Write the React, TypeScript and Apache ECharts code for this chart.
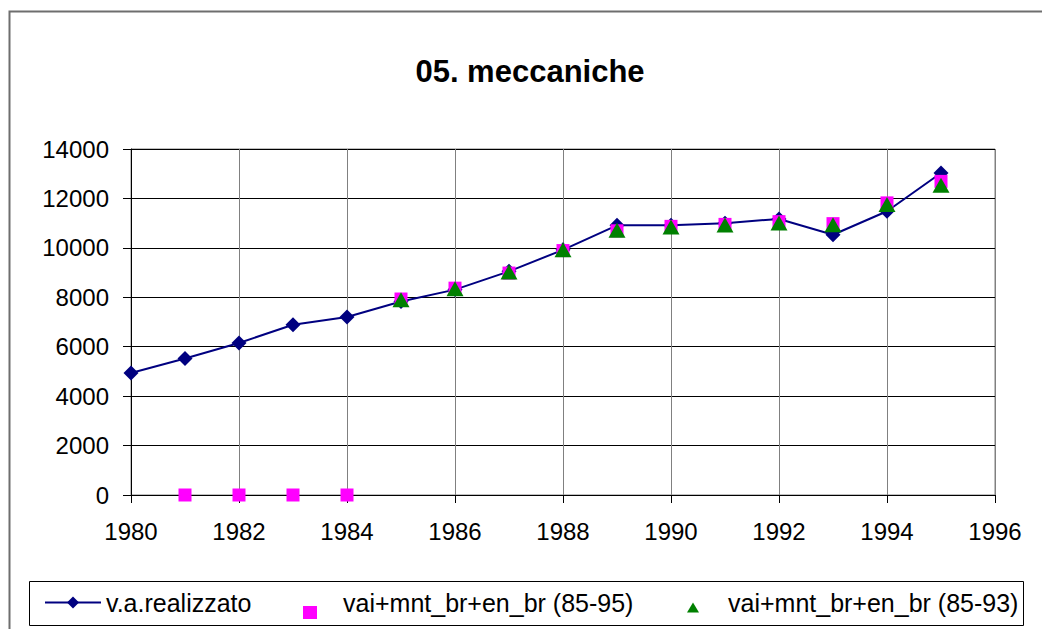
import React, { useEffect, useRef } from "react";
import * as echarts from "echarts";

const TITLE = "05. meccaniche";
const YEARS = [1980, 1981, 1982, 1983, 1984, 1985, 1986, 1987, 1988, 1989, 1990, 1991, 1992, 1993, 1994, 1995];
const REALIZZATO = [4940, 5520, 6150, 6890, 7200, 7830, 8310, 9050, 9920, 10910, 10910, 11000, 11170, 10530, 11480, 13030];
const VAI_85_95 = [null, 0, 0, 0, 0, 7930, 8370, 8980, 9890, 10690, 10870, 10950, 11060, 10980, 11820, 12690];
const VAI_85_93 = [null, null, null, null, null, 7900, 8350, 9020, 9920, 10710, 10840, 10920, 11010, 10940, 11750, 12530];
const SERIES_NAMES = ["v.a.realizzato", "vai+mnt_br+en_br (85-95)", "vai+mnt_br+en_br (85-93)"];
const X_MIN = 1980, X_MAX = 1996, X_STEP = 2;
const Y_MIN = 0, Y_MAX = 14000, Y_STEP = 2000;

const FONT = "'Liberation Sans', Arial, sans-serif";

const pairs = (vals: (number | null)[]) =>
  YEARS.map((y, i) => (vals[i] === null ? null : [y, vals[i]])).filter((p) => p !== null);

export default function App() {
  const ref = useRef<HTMLDivElement>(null);
  useEffect(() => {
    if (!ref.current) return;
    const chart = echarts.init(ref.current, null, { renderer: "svg" });
    chart.setOption({
      animation: false,
      backgroundColor: "#ffffff",
      textStyle: { fontFamily: FONT },
      grid: { left: 131, right: 47, top: 149, bottom: 134, show: true, borderColor: "#808080", borderWidth: 1 },
      xAxis: {
        type: "value",
        min: X_MIN,
        max: X_MAX,
        interval: X_STEP,
        axisLine: { show: true, onZero: false, lineStyle: { color: "#000", width: 1 } },
        axisTick: { show: true, inside: false, length: 8, lineStyle: { color: "#000" } },
        axisLabel: { color: "#000", fontSize: 24, fontFamily: FONT, margin: 24, formatter: (v: number) => String(v) },
        splitLine: { show: true, lineStyle: { color: "#808080", width: 1 } },
      },
      yAxis: {
        type: "value",
        min: Y_MIN,
        max: Y_MAX,
        interval: Y_STEP,
        axisLine: { show: true, lineStyle: { color: "#000", width: 1 } },
        axisTick: { show: true, inside: false, length: 8, lineStyle: { color: "#000" } },
        axisLabel: { color: "#000", fontSize: 24, fontFamily: FONT, margin: 22, formatter: (v: number) => String(v) },
        splitLine: { show: true, lineStyle: { color: "#000", width: 1 } },
      },
      legend: [
        {
          left: 44,
          top: 590,
          padding: 0,
          itemWidth: 56,
          itemHeight: 15,
          data: [{ name: SERIES_NAMES[0] }],
          textStyle: { fontSize: 25, color: "#000", fontFamily: FONT },
        },
        {
          left: 303,
          top: 586,
          padding: 0,
          itemWidth: 14,
          itemHeight: 33,
          data: [{ name: SERIES_NAMES[1], icon: "path://M0,0 M0,20 L14,20 L14,33 L0,33 Z" }],
          textStyle: { fontSize: 25, color: "#000", fontFamily: FONT, padding: [0, 0, 0, 21] },
        },
        {
          left: 687,
          top: 590,
          padding: 0,
          itemWidth: 12,
          itemHeight: 20,
          data: [{ name: SERIES_NAMES[2], icon: "path://M0,0 M6,10 L12,20 L0,20 Z" }],
          textStyle: { fontSize: 25, color: "#000", fontFamily: FONT, padding: [0, 0, 0, 24] },
        },
      ],
      graphic: [
        {
          type: "rect",
          shape: { x: 9.5, y: 11.5, width: 1200, height: 800 },
          style: { fill: "none", stroke: "#6e6e6e", lineWidth: 2 },
          silent: true,
          z: -10,
        },
        {
          type: "rect",
          shape: { x: 29.5, y: 581.5, width: 994, height: 44 },
          style: { fill: "none", stroke: "#000", lineWidth: 1 },
          silent: true,
          z: -10,
        },
        {
          type: "text",
          x: 530,
          y: 71,
          style: {
            text: TITLE,
            fontSize: 31,
            fontWeight: "bold",
            fontFamily: FONT,
            fill: "#000",
            textAlign: "center",
            textVerticalAlign: "middle",
          },
        },
      ],
      series: [
        {
          name: SERIES_NAMES[0],
          type: "line",
          data: pairs(REALIZZATO),
          symbol: "diamond",
          symbolSize: [15, 15],
          showAllSymbol: true,
          itemStyle: { color: "#000080" },
          lineStyle: { color: "#000080", width: 2 },
          z: 2,
        },
        {
          name: SERIES_NAMES[1],
          type: "scatter",
          data: pairs(VAI_85_95),
          symbol: "rect",
          symbolSize: 13,
          itemStyle: { color: "#ff00ff", opacity: 1 },
          z: 3,
        },
        {
          name: SERIES_NAMES[2],
          type: "scatter",
          data: pairs(VAI_85_93),
          symbol: "triangle",
          symbolSize: [17, 15],
          itemStyle: { color: "#008000", opacity: 1 },
          z: 4,
        },
      ],
    });
    return () => chart.dispose();
  }, []);
  return <div ref={ref} style={{ position: "absolute", left: 0, top: 0, width: 1042, height: 629 }} />;
}
